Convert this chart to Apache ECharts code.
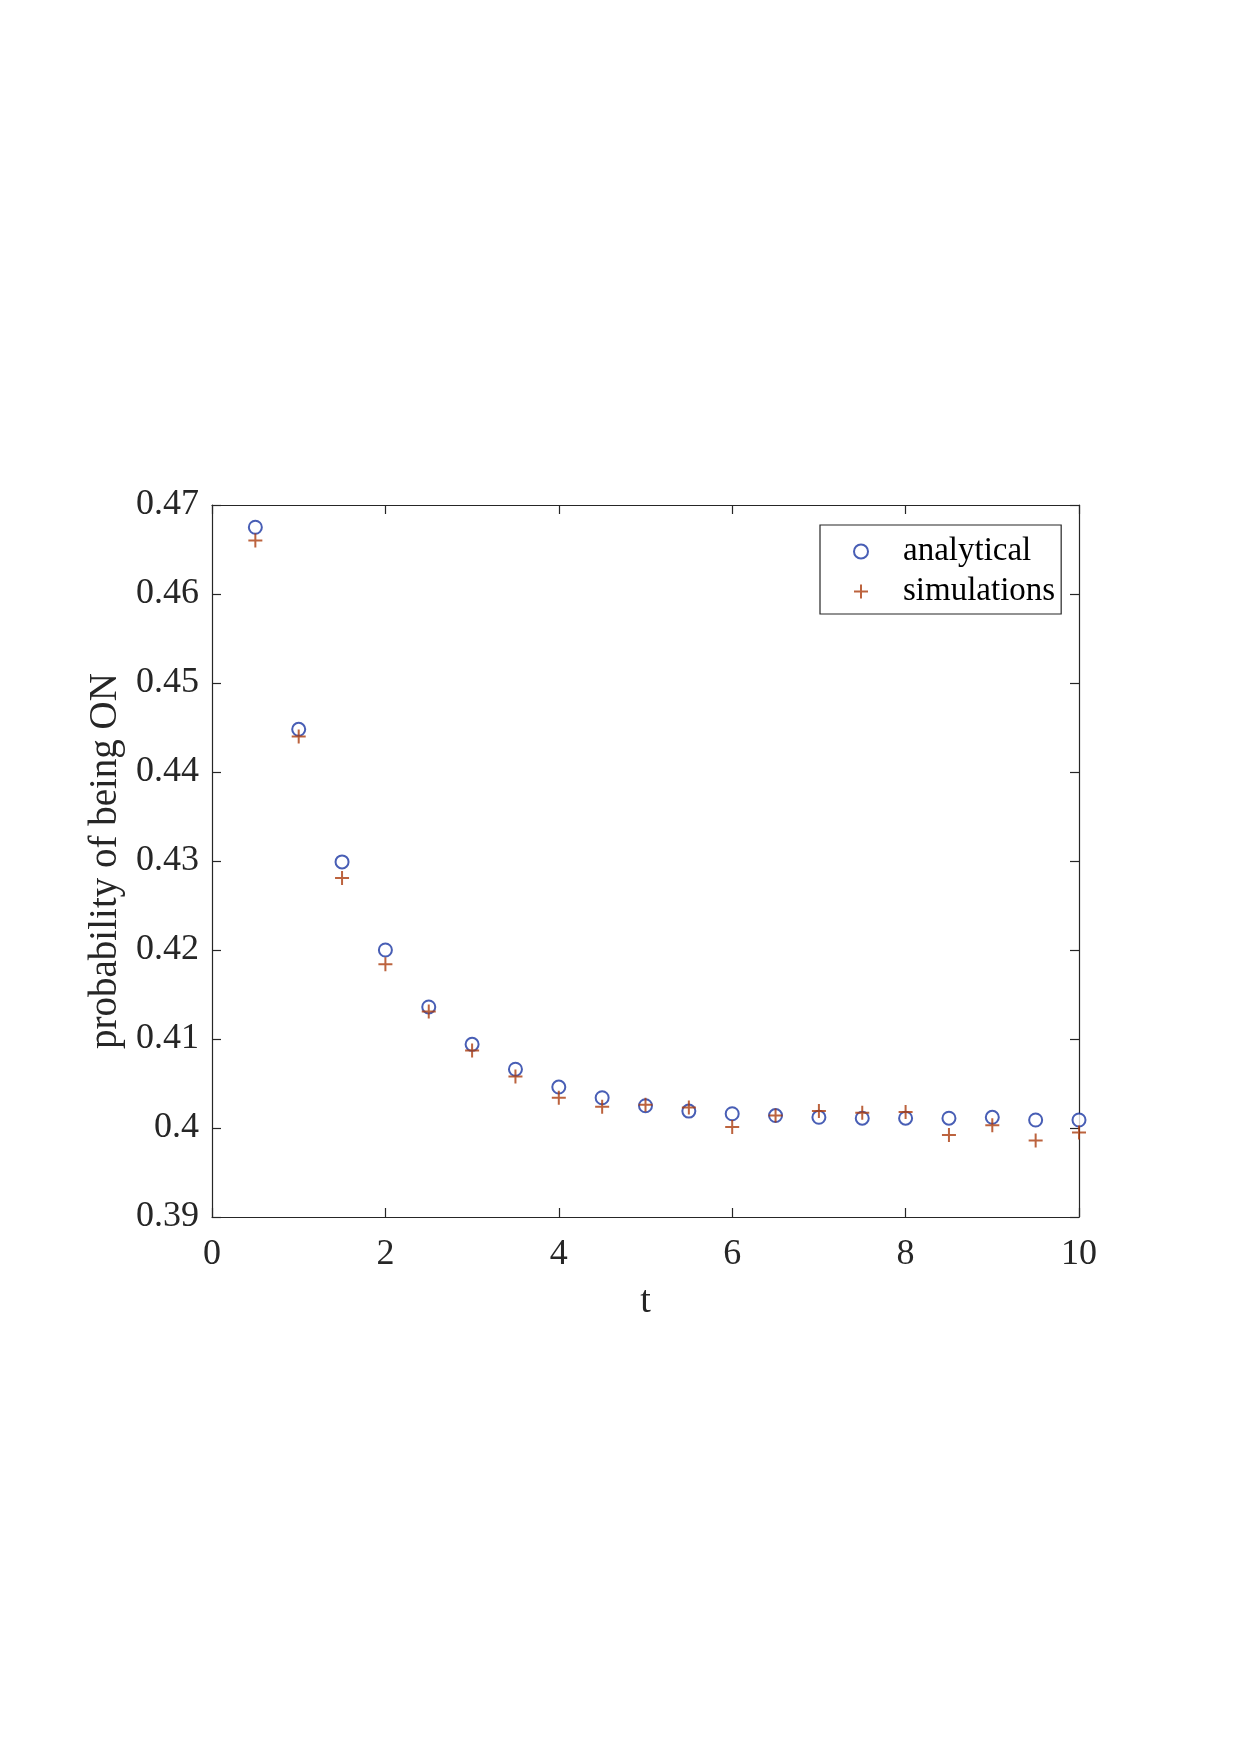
<!DOCTYPE html>
<html>
<head>
<meta charset="utf-8">
<script src="https://cdn.jsdelivr.net/npm/echarts@6/dist/echarts.min.js"></script>
<style>
  html, body { margin: 0; padding: 0; background: #fff; }
  #chart { width: 1240px; height: 1755px; }
</style>
</head>
<body>
<div id="chart"></div>
<script>
// data
const tValues = [0.5, 1, 1.5, 2, 2.5, 3, 3.5, 4, 4.5, 5, 5.5, 6, 6.5, 7, 7.5, 8, 8.5, 9, 9.5, 10]
const analytical = [0.4675, 0.4448, 0.4299, 0.4200, 0.4136, 0.4094, 0.4066, 0.4046, 0.4034, 0.4025,
  0.4019, 0.4016, 0.4014, 0.4012, 0.4011, 0.4011, 0.4011, 0.4012, 0.4009, 0.4009]
const simulations = [0.4660, 0.4440, 0.4281, 0.4184, 0.4131, 0.4087, 0.4058, 0.4034, 0.4024, 0.4026,
  0.4023, 0.4001, 0.4014, 0.4019, 0.4017, 0.4018, 0.3992, 0.4003, 0.3986, 0.3995]
const seriesNames = ['analytical', 'simulations']
const xTicks = { min: 0, max: 10, interval: 2 }
const yTicks = { min: 0.39, max: 0.47, interval: 0.01 }

const axisColor = '#262626'
const fontFamily = '"Liberation Serif", "DejaVu Serif", serif'

const pairs = (ys) => tValues.map((t, i) => [t, ys[i]])

const boxAxis = {
  axisLine: { show: true, onZero: false, lineStyle: { color: axisColor, width: 1.2 } },
  axisTick: { show: true, inside: true, length: 9, lineStyle: { color: axisColor, width: 1.2 } },
  splitLine: { show: false }
}

const option = {
  backgroundColor: '#fff',
  animation: false,
  grid: { left: 212, right: 161, top: 505, bottom: 538 },
  legend: {
    orient: 'vertical',
    left: 820,
    top: 525,
    padding: [10, 6, 6, 33],
    itemGap: 7,
    itemWidth: 14,
    itemHeight: 14,
    borderColor: axisColor,
    borderWidth: 1.2,
    backgroundColor: '#fff',
    data: seriesNames,
    textStyle: {
      fontFamily: fontFamily,
      fontSize: 33,
      color: '#000',
      lineHeight: 32,
      padding: [0, 0, 0, 30]
    }
  },
  xAxis: [
    Object.assign({
      type: 'value', position: 'bottom',
      min: xTicks.min, max: xTicks.max, interval: xTicks.interval,
      name: 't', nameLocation: 'middle', nameGap: 66,
      nameTextStyle: { fontFamily: fontFamily, fontSize: 38, color: axisColor },
      axisLabel: { margin: 20, fontFamily: fontFamily, fontSize: 36, color: axisColor }
    }, boxAxis),
    Object.assign({
      type: 'value', position: 'top',
      min: xTicks.min, max: xTicks.max, interval: xTicks.interval,
      axisLabel: { show: false }
    }, boxAxis)
  ],
  yAxis: [
    Object.assign({
      type: 'value', position: 'left',
      min: yTicks.min, max: yTicks.max, interval: yTicks.interval,
      name: 'probability of being ON', nameLocation: 'middle', nameGap: 72, nameRotate: 90,
      nameTextStyle: { fontFamily: fontFamily, fontSize: 39, color: axisColor },
      axisLabel: {
        margin: 13, fontFamily: fontFamily, fontSize: 36, color: axisColor,
        lineHeight: 36,
        padding: [8, 0, 0, 0],
        formatter: v => String(parseFloat(v.toFixed(2)))
      }
    }, boxAxis),
    Object.assign({
      type: 'value', position: 'right',
      min: yTicks.min, max: yTicks.max, interval: yTicks.interval,
      axisLabel: { show: false }
    }, boxAxis)
  ],
  series: [
    {
      name: seriesNames[0],
      type: 'scatter',
      clip: false,
      symbol: 'emptyCircle',
      symbolSize: 13,
      itemStyle: { color: '#1a36a2', borderColor: '#1a36a2', borderWidth: 2 },
      data: pairs(analytical)
    },
    {
      name: seriesNames[1],
      type: 'scatter',
      clip: false,
      symbol: 'path://M7,0 L7,14 M0,7 L14,7',
      symbolSize: 14,
      itemStyle: { color: 'rgba(0,0,0,0)', borderColor: '#ab3c0e', borderWidth: 2 },
      data: pairs(simulations)
    }
  ]
}

const chart = echarts.init(document.getElementById('chart'), null, { renderer: 'canvas' })
chart.setOption(option)
</script>
</body>
</html>
